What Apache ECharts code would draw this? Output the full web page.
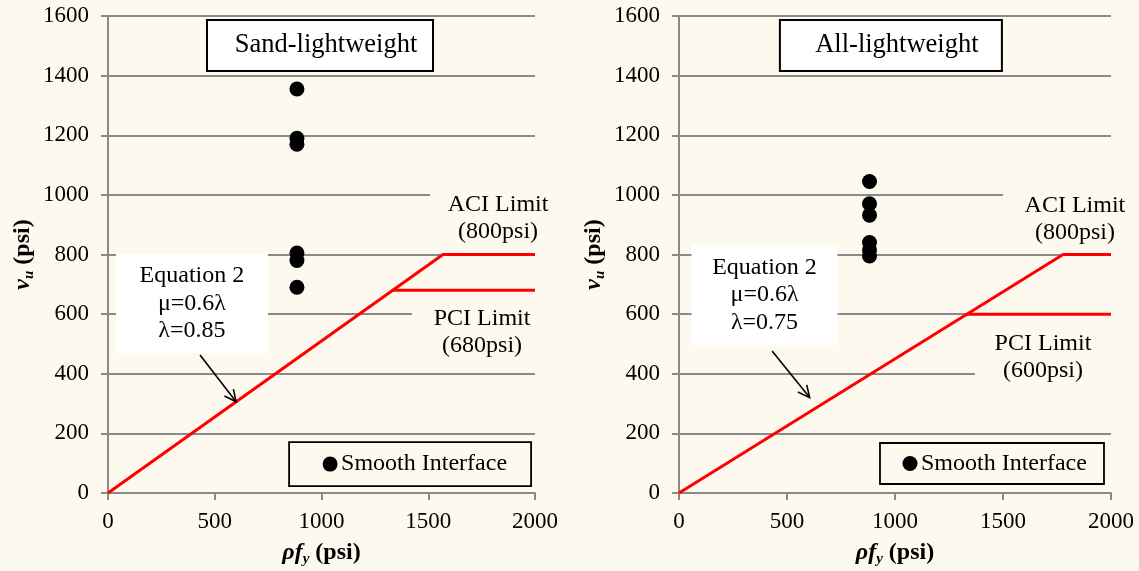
<!DOCTYPE html>
<html>
<head>
<meta charset="utf-8">
<script src="https://cdn.jsdelivr.net/npm/echarts@6/dist/echarts.min.js"></script>
<style>
  html, body { margin: 0; padding: 0; background: #FDF9EE; }
  #chart { width: 1139px; height: 571px; }
</style>
</head>
<body>
<div id="chart"></div>
<script>
// ---- data ----
const panelTitles = ['Sand-lightweight', 'All-lightweight'];
const xTickStep = 500, xMax = 2000;
const yTickStep = 200, yMax = 1600;

// measured shear strength vs clamping stress (smooth interface specimens)
const sandX = [885, 885, 885, 885, 885, 885];
const sandY = [1355, 1190, 1170, 805, 780, 690];
const allX = [882, 882, 882, 882, 882, 882];
const allY = [1045, 970, 932, 840, 815, 795];

// Equation 2 (mu = 0.6 lambda) capped by the ACI limit
const sandEqX = [0, 1569, 2000];
const sandEqY = [0, 800, 800];
const allEqX = [0, 1778, 2000];
const allEqY = [0, 800, 800];
// PCI limit
const sandPciX = [1333, 2000];
const sandPciY = [680, 680];
const allPciX = [1333, 2000];
const allPciY = [600, 600];

const eqText = ['Equation 2\nμ=0.6λ\nλ=0.85', 'Equation 2\nμ=0.6λ\nλ=0.75'];
const aciText = ['ACI Limit\n(800psi)', 'ACI Limit\n(800psi)'];
const pciText = ['PCI Limit\n(680psi)', 'PCI Limit\n(600psi)'];
const legendText = 'Smooth Interface';

// ---- styling ----
const FONT = "'Liberation Serif', 'Times New Roman', serif";
const BG = '#FDF9EE';
const GRAY = '#8A8A8A';
const RED = '#FF0000';

const zip = (xs, ys) => xs.map((x, i) => [x, ys[i]]);

const grids = [
  { left: 108, top: 16, width: 427, height: 477, outerBoundsMode: 'none', containLabel: false },
  { left: 679, top: 16, width: 432, height: 477, outerBoundsMode: 'none', containLabel: false }
];

const nameRich = {
  i: { fontFamily: FONT, fontSize: 24, fontWeight: 'bold', fontStyle: 'italic', verticalAlign: 'top', lineHeight: 26 },
  s: { fontFamily: FONT, fontSize: 15, fontWeight: 'bold', fontStyle: 'italic', verticalAlign: 'bottom', lineHeight: 16, padding: [12, 0, 0, 0] },
  p: { fontFamily: FONT, fontSize: 24, fontWeight: 'bold', verticalAlign: 'top', lineHeight: 26 }
};

function xAxisFor(i) {
  return {
    gridIndex: i, type: 'value', min: 0, max: xMax, interval: xTickStep,
    axisLine: { show: true, onZero: false, lineStyle: { color: GRAY, width: 2 } },
    axisTick: { show: true, length: 7, lineStyle: { color: GRAY, width: 2 } },
    axisLabel: { margin: 17, color: '#000', fontFamily: FONT, fontSize: 23, formatter: v => String(v) },
    splitLine: { show: false },
    name: '{i|ρf}{s|y}{p| (psi)}',
    nameLocation: 'middle', nameGap: 48,
    nameTextStyle: { fontFamily: FONT, color: '#000', rich: nameRich }
  };
}

function yAxisFor(i) {
  return {
    gridIndex: i, type: 'value', min: 0, max: yMax, interval: yTickStep,
    axisLine: { show: true, lineStyle: { color: GRAY, width: 2 } },
    axisTick: { show: true, length: 7, lineStyle: { color: GRAY, width: 2 } },
    axisLabel: { margin: 19, color: '#000', fontFamily: FONT, fontSize: 23, formatter: v => String(v) },
    splitLine: { show: true, lineStyle: { color: GRAY, width: 2 } },
    name: '{i|v}{s|u}{p| (psi)}',
    nameLocation: 'middle', nameGap: 71, nameRotate: 90,
    nameTextStyle: { fontFamily: FONT, color: '#000', rich: nameRich }
  };
}

function scatter(i, xs, ys) {
  return {
    type: 'scatter', xAxisIndex: i, yAxisIndex: i, data: zip(xs, ys),
    symbol: 'circle', symbolSize: 15, itemStyle: { color: '#000', opacity: 1 }, z: 5, silent: true
  };
}
function redLine(i, xs, ys) {
  return {
    type: 'line', xAxisIndex: i, yAxisIndex: i, data: zip(xs, ys),
    symbol: 'none', lineStyle: { color: RED, width: 3 }, z: 4, silent: true
  };
}

const chart = echarts.init(document.getElementById('chart'), null, { renderer: 'canvas' });
chart.setOption({
  backgroundColor: BG,
  animation: false,
  grid: grids,
  xAxis: [xAxisFor(0), xAxisFor(1)],
  yAxis: [yAxisFor(0), yAxisFor(1)],
  series: [
    redLine(0, sandEqX, sandEqY), redLine(0, sandPciX, sandPciY), scatter(0, sandX, sandY),
    redLine(1, allEqX, allEqY), redLine(1, allPciX, allPciY), scatter(1, allX, allY)
  ]
});

// ---- annotations, anchored in data space of each panel ----
const annot = [
  { title: [993, 1501], titleSize: [226, 51], eq: [393, 636], eqSize: [152, 99],
    arrow: [[431, 463], [600, 306]],
    aci: [1827, 921], aciBox: [136, 58], pci: [1752, 538], pciBox: [140, 62],
    legend: [1415, 97], legendSize: [242, 44] },
  { title: [981, 1501], titleSize: [222, 51], eq: [396, 664], eqSize: [146, 100],
    arrow: [[431, 476], [605, 320]],
    aci: [1833, 917], aciBox: [144, 62], pci: [1685, 456], pciBox: [136, 62],
    legend: [1449, 99], legendSize: [224, 41] }
];

function px(i, p) { return chart.convertToPixel({ gridIndex: i }, p); }

const elements = [];
annot.forEach((a, i) => {
  const t = px(i, a.title);
  elements.push({
    type: 'rect', z: 20,
    shape: { x: t[0] - a.titleSize[0] / 2, y: t[1] - a.titleSize[1] / 2, width: a.titleSize[0], height: a.titleSize[1] },
    style: { fill: '#fff', stroke: '#000', lineWidth: 2 }
  });
  elements.push({
    type: 'text', z: 21, x: t[0] + 6, y: t[1],
    style: { text: panelTitles[i], font: '26.5px ' + FONT, fill: '#000', align: 'center', verticalAlign: 'middle', textAlign: 'center', textVerticalAlign: 'middle' }
  });

  const e = px(i, a.eq);
  elements.push({
    type: 'rect', z: 20,
    shape: { x: e[0] - a.eqSize[0] / 2, y: e[1] - a.eqSize[1] / 2, width: a.eqSize[0], height: a.eqSize[1] },
    style: { fill: '#fff' }
  });
  elements.push({
    type: 'text', z: 21, x: e[0], y: e[1],
    style: { text: eqText[i], font: '24px ' + FONT, lineHeight: 27.5, fill: '#000', align: 'center', verticalAlign: 'middle', textAlign: 'center', textVerticalAlign: 'middle' }
  });

  // arrow from the equation box to the line
  const p0 = px(i, a.arrow[0]), p1 = px(i, a.arrow[1]);
  const ang = Math.atan2(p1[1] - p0[1], p1[0] - p0[0]);
  const hl = 13, ha = 0.45;
  elements.push({
    type: 'line', z: 21,
    shape: { x1: p0[0], y1: p0[1], x2: p1[0], y2: p1[1] },
    style: { stroke: '#000', lineWidth: 1.6 }
  });
  elements.push({
    type: 'polyline', z: 21,
    shape: { points: [
      [p1[0] - hl * Math.cos(ang - ha), p1[1] - hl * Math.sin(ang - ha)],
      p1,
      [p1[0] - hl * Math.cos(ang + ha), p1[1] - hl * Math.sin(ang + ha)]
    ] },
    style: { stroke: '#000', lineWidth: 1.6, fill: null }
  });

  [[a.aci, a.aciBox, aciText[i]], [a.pci, a.pciBox, pciText[i]]].forEach(([c, box, txt]) => {
    const q = px(i, c);
    elements.push({
      type: 'rect', z: 18,
      shape: { x: q[0] - box[0] / 2, y: q[1] - box[1] / 2, width: box[0], height: box[1] },
      style: { fill: BG }
    });
    elements.push({
      type: 'text', z: 19, x: q[0], y: q[1],
      style: { text: txt, font: '24px ' + FONT, lineHeight: 27, fill: '#000', align: 'center', verticalAlign: 'middle', textAlign: 'center', textVerticalAlign: 'middle' }
    });
  });

  const l = px(i, a.legend);
  const lw = a.legendSize[0], lh = a.legendSize[1];
  elements.push({
    type: 'rect', z: 20,
    shape: { x: l[0] - lw / 2, y: l[1] - lh / 2, width: lw, height: lh },
    style: { fill: BG, stroke: '#000', lineWidth: 1.8 }
  });
  const dotX = l[0] - lw / 2 + (i === 0 ? 41 : 30);
  elements.push({
    type: 'circle', z: 21,
    shape: { cx: dotX, cy: l[1], r: 7.5 },
    style: { fill: '#000' }
  });
  elements.push({
    type: 'text', z: 21, x: dotX + 11, y: l[1],
    style: { text: legendText, font: '24px ' + FONT, fill: '#000', align: 'left', verticalAlign: 'middle', textAlign: 'left', textVerticalAlign: 'middle' }
  });
});

chart.setOption({ graphic: { elements: elements } });
</script>
</body>
</html>
